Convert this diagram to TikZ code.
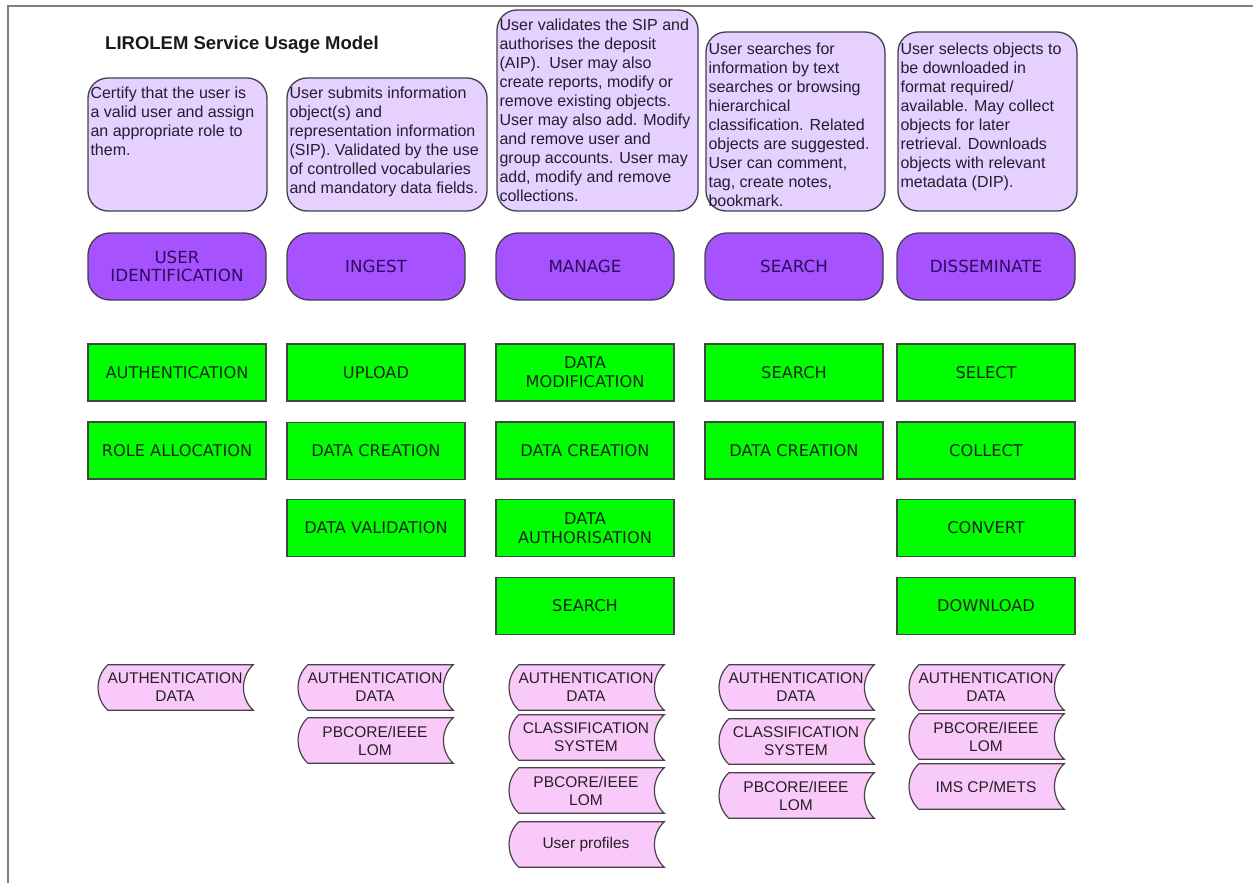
\documentclass[tikz,border=0pt]{standalone}
\usepackage{fontspec}
\setmainfont{Liberation Sans}
\newfontfamily\vfont{DejaVu Sans}
\usetikzlibrary{backgrounds}
\definecolor{descfill}{HTML}{E6D0FF}
\definecolor{descline}{HTML}{404048}
\definecolor{desctext}{HTML}{221E2E}
\definecolor{headfill}{HTML}{A652FF}
\definecolor{headtext}{HTML}{2E0C5E}
\definecolor{greenfill}{HTML}{00FF00}
\definecolor{greenline}{HTML}{3C4A3C}
\definecolor{greentext}{HTML}{162616}
\definecolor{pinkfill}{HTML}{F9C9F9}
\definecolor{pinkline}{HTML}{4A404A}
\definecolor{pinktext}{HTML}{262026}
\definecolor{framegray}{HTML}{808080}
\newcommand{\mydatashape}[4]{%
  \node[dtext] (#1) at (#2+78,#3+22.5) {#4};
  \begin{scope}[on background layer]
    \draw[dline] ([xshift=11pt]#1.north west) -- (#1.north east)
      .. controls ([xshift=-13pt,yshift=-12pt]#1.north east) and ([xshift=-13pt,yshift=12pt]#1.south east) .. (#1.south east)
      -- ([xshift=11pt]#1.south west)
      .. controls ([xshift=-2pt,yshift=12pt]#1.south west) and ([xshift=-2pt,yshift=-12pt]#1.north west) .. cycle;
  \end{scope}}
\begin{document}
\begin{tikzpicture}[x=1pt,y=-1pt,
  descbox/.style={draw=descline, line width=1.3pt, fill=descfill, rounded corners=20pt, inner sep=0pt},
  desctxt/.style={anchor=north west, inner sep=0pt, align=left, text=desctext, font=\fontsize{16}{19}\selectfont},
  head/.style={draw=descline, line width=1.3pt, fill=headfill, rounded corners=22pt, minimum width=178pt, minimum height=67pt, inner sep=0pt, align=center, text=headtext, font=\vfont\fontsize{16.7}{18.5}\selectfont},
  act/.style={draw=greenline, line width=1.3pt, fill=greenfill, minimum width=178pt, minimum height=57pt, inner sep=0pt, align=center, text=greentext, font=\vfont\fontsize{16.2}{18.8}\selectfont},
  dtext/.style={minimum width=156pt, minimum height=45pt, inner sep=0pt, align=center, text=pinktext, font=\fontsize{15.5}{18}\selectfont},
  dline/.style={draw=pinkline, line width=1.2pt, fill=pinkfill}]
\useasboundingbox (0,0) rectangle (1253,883);
\draw[framegray, line width=2.2pt] (1253,5.8) -- (8.2,5.8) -- (8.2,883);

\node[anchor=base west, inner sep=0pt, font=\bfseries\fontsize{18.5}{22}\selectfont, text=black!90] (title) at (105,50) {LIROLEM Service Usage Model};

% description boxes
\node[descbox, minimum width=179pt, minimum height=133pt] (d1) at (177.5,144.5) {};
\node[desctxt] (d1t) at ([xshift=3pt,yshift=-9pt]d1.north west) {Certify that the user is\\a valid user and assign\\an appropriate role to\\them.};
\node[descbox, minimum width=200pt, minimum height=133pt] (d2) at (387,144.5) {};
\node[desctxt] (d2t) at ([xshift=3pt,yshift=-9pt]d2.north west) {User submits information\\object(s) and\\representation information\\(SIP). Validated by the use\\of controlled vocabularies\\and mandatory data fields.};
\node[descbox, minimum width=201pt, minimum height=201pt] (d3) at (597.5,110.5) {};
\node[desctxt] (d3t) at ([xshift=3pt,yshift=-9pt]d3.north west) {User validates the SIP and\\authorises the deposit\\(AIP).\ \ User may also\\create reports, modify or\\remove existing objects.\\User may also add. Modify\\and remove user and\\group accounts. User may\\add, modify and remove\\collections.};
\node[descbox, minimum width=179pt, minimum height=179pt] (d4) at (795.5,121.5) {};
\node[desctxt] (d4t) at ([xshift=3pt,yshift=-11pt]d4.north west) {User searches for\\information by text\\searches or browsing\\hierarchical\\classification. Related\\objects are suggested.\\User can comment,\\tag, create notes,\\bookmark.};
\node[descbox, minimum width=179pt, minimum height=179pt] (d5) at (987.5,121.5) {};
\node[desctxt] (d5t) at ([xshift=3pt,yshift=-11pt]d5.north west) {User selects objects to\\be downloaded in\\format required/\\available. May collect\\objects for later\\retrieval. Downloads\\objects with relevant\\metadata (DIP).};

% headers
\node[head] (h1) at (177,266.5) {USER\\IDENTIFICATION};
\node[head] (h2) at (376,266.5) {INGEST};
\node[head] (h3) at (585,266.5) {MANAGE};
\node[head] (h4) at (794,266.5) {SEARCH};
\node[head] (h5) at (986,266.5) {DISSEMINATE};

% activities
\node[act] (a11) at (177,372.5) {AUTHENTICATION};
\node[act] (a12) at (177,450.5) {ROLE ALLOCATION};
\node[act] (a21) at (376,372.5) {UPLOAD};
\node[act] (a22) at (376,451) {DATA CREATION};
\node[act] (a23) at (376,528) {DATA VALIDATION};
\node[act] (a31) at (585,372.5) {DATA\\MODIFICATION};
\node[act] (a32) at (585,450.5) {DATA CREATION};
\node[act] (a33) at (585,528) {DATA\\AUTHORISATION};
\node[act] (a34) at (585,606) {SEARCH};
\node[act] (a41) at (794,372.5) {SEARCH};
\node[act] (a42) at (794,450.5) {DATA CREATION};
\node[act] (a51) at (986,372.5) {SELECT};
\node[act] (a52) at (986,450.5) {COLLECT};
\node[act] (a53) at (986,528) {CONVERT};
\node[act] (a54) at (986,606) {DOWNLOAD};

% data stores
\mydatashape{s11}{97}{665}{AUTHENTICATION\\DATA}
\mydatashape{s21}{297}{665}{AUTHENTICATION\\DATA}
\mydatashape{s22}{297}{718}{PBCORE/IEEE\\LOM}
\mydatashape{s31}{508}{665}{AUTHENTICATION\\DATA}
\mydatashape{s32}{508}{715}{CLASSIFICATION\\SYSTEM}
\mydatashape{s33}{508}{768}{PBCORE/IEEE\\LOM}
\mydatashape{s34}{508}{822}{User profiles}
\mydatashape{s41}{718}{665}{AUTHENTICATION\\DATA}
\mydatashape{s42}{718}{719}{CLASSIFICATION\\SYSTEM}
\mydatashape{s43}{718}{773}{PBCORE/IEEE\\LOM}
\mydatashape{s51}{908}{665}{AUTHENTICATION\\DATA}
\mydatashape{s52}{908}{714}{PBCORE/IEEE\\LOM}
\mydatashape{s53}{908}{764}{IMS CP/METS}
\end{tikzpicture}
\end{document}
